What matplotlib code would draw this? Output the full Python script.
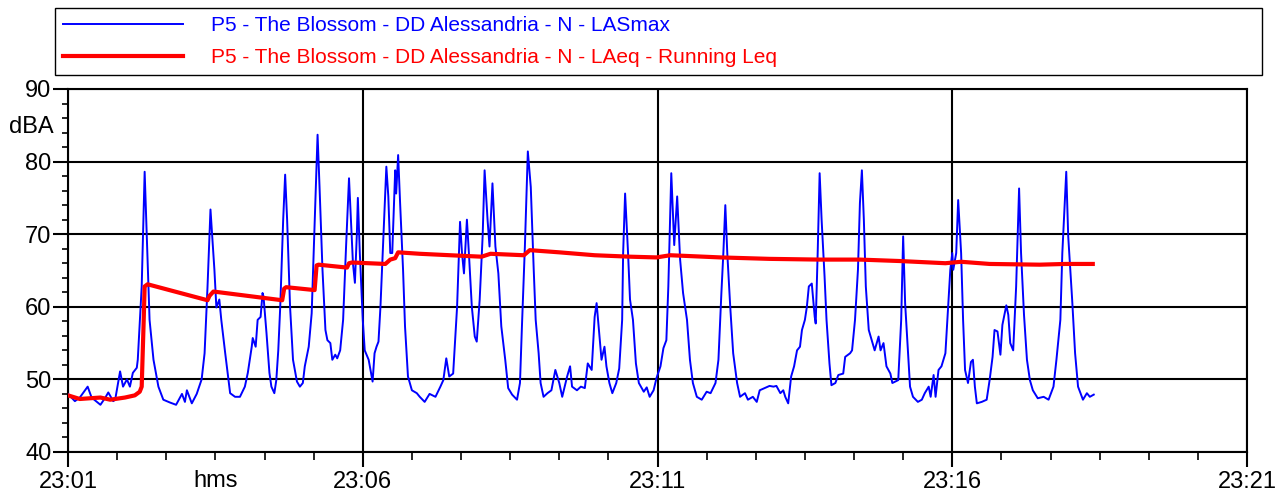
import numpy as np
import matplotlib
matplotlib.use("Agg")
import matplotlib.pyplot as plt
from matplotlib.ticker import MultipleLocator, FuncFormatter
from matplotlib.transforms import blended_transform_factory

plt.rcParams['font.family'] = ['Liberation Sans', 'DejaVu Sans']

# elapsed seconds from 23:01:00 and measured levels (dBA)
t_max = [0, 7, 12, 20, 24, 33, 38, 41, 46, 48, 53, 56, 60, 63, 66, 70, 71, 75, 78, 81,
         83, 87, 92, 97, 104, 110, 116, 119, 121, 126, 131, 136, 139, 142, 145, 149, 151,
         154, 156, 160, 165, 170, 175, 180, 183, 187, 188, 191, 193, 196, 198, 199, 202,
         205, 207, 210, 212, 214, 216, 219, 221, 223, 226, 229, 233, 236, 239, 241, 245,
         248, 250, 254, 256, 259, 262, 264, 267, 269, 272, 274, 277, 280, 283, 286, 288,
         290, 292, 294, 295, 297, 300, 302, 306, 310, 312, 314, 316, 318, 321, 324, 326,
         328, 330, 333, 334, 336, 338, 341, 343, 346, 350, 355, 358, 363, 368, 374, 379,
         382, 385, 388, 392, 396, 399, 401, 403, 406, 408, 411, 414, 416, 419, 422, 424,
         427, 429, 432, 435, 438, 441, 445, 448, 452, 457, 460, 462, 465, 468, 471, 474,
         476, 479, 481, 484, 488, 492, 496, 500, 503, 508, 511, 513, 518, 522, 526, 529,
         533, 536, 538, 541, 543, 546, 548, 551, 554, 558, 561, 564, 565, 567, 570, 572,
         575, 578, 581, 586, 589, 592, 596, 599, 603, 606, 609, 611, 614, 617, 620, 623,
         626, 630, 633, 636, 640, 645, 650, 654, 659, 662, 665, 667, 669, 671, 674, 677,
         681, 684, 689, 692, 697, 701, 704, 709, 714, 718, 721, 725, 728, 730, 733, 736,
         739, 742, 745, 747, 750, 752, 754, 757, 760, 761, 763, 765, 767, 770, 772, 775,
         777, 781, 784, 789, 791, 796, 798, 801, 804, 806, 808, 810, 812, 815, 818, 821,
         825, 827, 830, 833, 837, 839, 842, 845, 848, 850, 852, 855, 857, 860, 865, 869,
         872, 876, 878, 881, 883, 886, 889, 893, 895, 898, 900, 901, 904, 906, 909, 911,
         913, 916, 919, 921, 923, 925, 930, 935, 938, 941, 943, 946, 949, 951, 955, 957,
         959, 962, 965, 968, 970, 973, 976, 979, 982, 987, 993, 998, 1003, 1006, 1010,
         1012, 1016, 1018, 1022, 1025, 1028, 1033, 1037, 1040, 1044]
lasmax = [48.0, 47.0, 47.5, 49.0, 47.5, 46.5, 47.5, 48.2, 47.0, 47.2, 51.1, 49.0, 50.0,
          49.0, 50.9, 51.6, 52.7, 62.8, 78.6, 66.5, 58.2, 52.7, 49.0, 47.2, 46.8, 46.5,
          48.0, 46.9, 48.5, 46.7, 48.0, 50.0, 53.6, 62.8, 73.4, 65.1, 59.9, 61.0, 58.2,
          53.6, 48.1, 47.6, 47.6, 49.0, 50.9, 54.5, 55.7, 54.5, 58.2, 58.6, 61.9, 61.4,
          56.4, 50.9, 49.0, 48.1, 49.9, 54.0, 60.0, 72.0, 78.2, 72.0, 60.0, 52.7, 49.7,
          49.0, 49.5, 51.8, 54.5, 59.1, 67.4, 83.7, 76.5, 65.1, 56.8, 55.4, 55.0, 52.7,
          53.4, 52.9, 54.0, 58.2, 68.3, 77.7, 72.0, 66.0, 63.3, 70.1, 75.0, 67.4, 58.2,
          54.0, 52.7, 49.7, 53.6, 54.5, 55.2, 60.0, 69.7, 79.3, 75.2, 67.4, 67.4, 78.8,
          75.6, 80.9, 74.3, 65.1, 57.3, 50.4, 48.5, 48.1, 47.6, 46.9, 48.0, 47.6, 49.0,
          49.9, 52.9, 50.4, 50.8, 60.0, 71.7, 67.4, 64.6, 72.0, 67.4, 60.0, 55.9, 55.2,
          61.0, 69.7, 78.8, 72.0, 68.3, 77.0, 68.3, 64.6, 57.3, 52.7, 48.8, 47.9, 47.2,
          49.5, 57.3, 68.3, 81.4, 76.5, 65.1, 58.2, 53.6, 49.5, 47.6, 48.1, 48.5, 51.3,
          49.5, 47.6, 50.4, 51.8, 49.0, 48.5, 49.0, 48.8, 52.2, 51.3, 58.6, 60.5, 55.9,
          52.7, 54.5, 51.8, 49.5, 48.1, 49.5, 51.5, 58.2, 67.4, 75.6, 67.4, 61.0, 58.2,
          52.2, 49.5, 48.3, 48.9, 47.6, 48.5, 50.2, 51.8, 54.3, 55.4, 62.8, 78.4, 68.5,
          75.2, 66.5, 61.9, 58.2, 52.7, 49.5, 47.6, 47.2, 48.3, 48.1, 49.5, 52.7, 61.9,
          67.4, 74.0, 67.4, 60.0, 53.6, 49.5, 47.6, 48.1, 47.2, 47.6, 46.9, 48.5, 48.8,
          49.1, 49.0, 49.1, 48.1, 48.5, 47.6, 46.7, 50.4, 51.8, 54.0, 54.5, 56.8, 58.2,
          60.0, 62.8, 63.2, 58.6, 57.7, 67.4, 78.4, 72.0, 64.2, 58.2, 52.2, 49.2, 49.5,
          50.6, 50.8, 53.1, 53.6, 54.0, 58.2, 65.1, 74.3, 78.8, 72.0, 62.8, 56.8, 55.4,
          54.0, 55.9, 54.0, 55.0, 51.8, 50.8, 49.5, 49.7, 49.9, 58.2, 69.7, 60.5, 53.6,
          49.0, 47.6, 46.9, 47.2, 48.1, 49.0, 47.6, 50.6, 47.6, 51.3, 51.8, 53.6, 58.2,
          65.1, 67.4, 65.1, 67.4, 74.7, 67.4, 58.2, 51.3, 49.5, 52.4, 52.7, 49.0, 46.7,
          46.9, 47.2, 49.9, 53.1, 56.8, 56.6, 53.4, 57.5, 60.2, 58.9, 55.0, 54.0, 62.8,
          76.3, 67.4, 58.9, 52.7, 49.9, 48.5, 47.4, 47.6, 47.2, 49.0, 52.7, 58.2, 67.4,
          78.6, 69.7, 61.0, 53.6, 49.0, 47.2, 48.1, 47.6, 47.9]

t_leq = [0, 12, 33, 43, 58, 68, 73, 75, 77, 78, 81, 142, 144, 148, 218, 220, 222, 251,
         253, 255, 284, 286, 289, 323, 328, 333, 336, 358, 389, 421, 430, 464, 470, 500,
         536, 572, 599, 613, 664, 714, 765, 806, 847, 893, 909, 938, 989, 1015, 1043]
leq = [47.8, 47.3, 47.5, 47.2, 47.5, 47.8, 48.3, 49.0, 58.0, 62.8, 63.1, 60.9, 61.5, 62.1,
       60.9, 62.5, 62.7, 62.3, 65.7, 65.8, 65.4, 66.0, 66.1, 65.9, 66.5, 66.7, 67.5, 67.3,
       67.1, 66.9, 67.3, 67.1, 67.8, 67.5, 67.1, 66.9, 66.8, 67.1, 66.8, 66.6, 66.5, 66.5,
       66.3, 66.0, 66.2, 65.9, 65.8, 65.9, 65.9]

lbl_max = "P5 - The Blossom - DD Alessandria - N - LASmax"
lbl_leq = "P5 - The Blossom - DD Alessandria - N - LAeq - Running Leq"

fig = plt.figure(figsize=(12.76, 4.93), dpi=100)
ax = fig.add_axes([0.0533, 0.0832, 0.9240, 0.7363])

ax.plot(t_max, lasmax, color="#0000ff", lw=1.4, label=lbl_max, zorder=3)
ax.plot(t_leq, leq, color="#ff0000", lw=3.0, label=lbl_leq, zorder=4)

ax.set_xlim(0, 1200)
ax.set_ylim(40, 90)
ax.xaxis.set_major_locator(MultipleLocator(300))
ax.xaxis.set_minor_locator(MultipleLocator(50))
ax.yaxis.set_major_locator(MultipleLocator(10))
ax.yaxis.set_minor_locator(MultipleLocator(2))
ax.xaxis.set_major_formatter(FuncFormatter(lambda s, pos: "23:%02d" % (1 + int(s) // 60)))

ax.grid(True, which="major", color="black", lw=1.5, zorder=1)
for sp in ax.spines.values():
    sp.set_linewidth(1.5)
ax.tick_params(which="major", length=11, width=1.5, labelsize=17, pad=3)
ax.tick_params(axis="x", which="minor", length=6, width=1.2)
ax.tick_params(axis="y", which="minor", length=4.5, width=1.2)
ax.tick_params(axis="y", which="major", pad=1)

ax.text(-0.031, 0.895, "dBA", transform=ax.transAxes, ha="center", va="center", fontsize=17)
trans = blended_transform_factory(ax.transData, ax.transAxes)
ax.text(150, -0.079, "hms", transform=trans, ha="center", va="center", fontsize=17)

fig.legend(loc="upper left", bbox_to_anchor=(0.0431, 0.848, 0.946, 0.136),
           mode="expand", borderaxespad=0, fontsize=15, labelcolor="linecolor",
           handlelength=5.75, handletextpad=1.35, borderpad=0.4, labelspacing=0.62,
           fancybox=False, framealpha=1, edgecolor="black")
fig.legends[0].get_frame().set_linewidth(1.0)

fig.savefig("out.png", dpi=100)
